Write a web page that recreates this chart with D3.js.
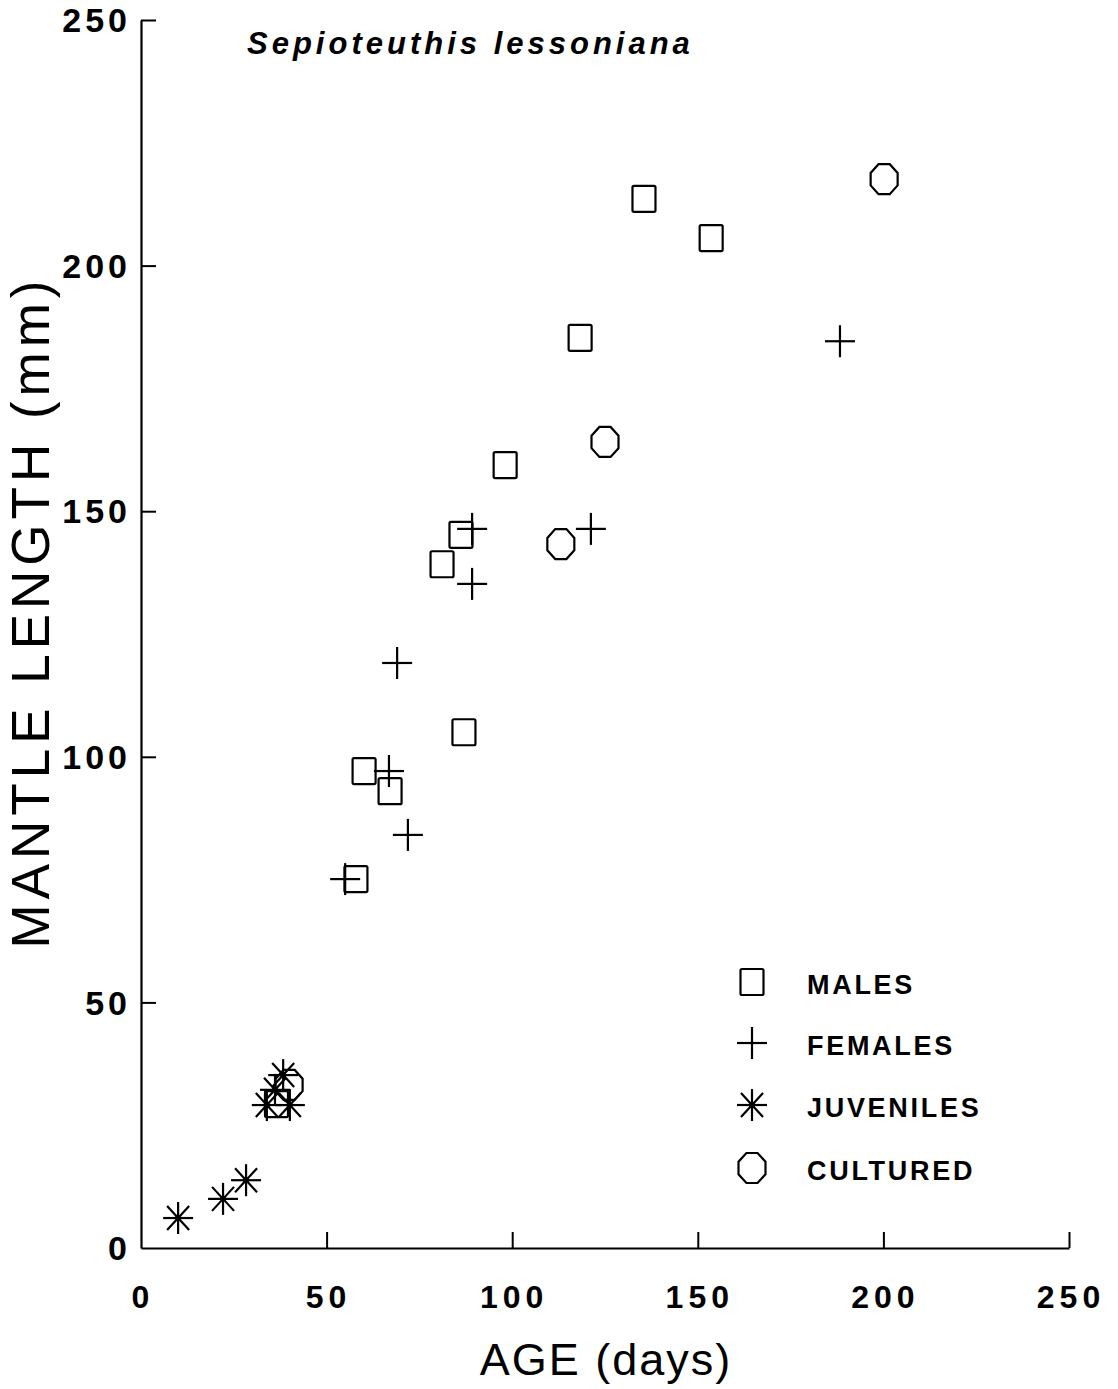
<!DOCTYPE html>
<html>
<head>
<meta charset="utf-8">
<script src="https://cdn.jsdelivr.net/npm/d3@7/dist/d3.min.js"></script>
<style>
  html, body { margin: 0; padding: 0; background: #fff; }
  svg { display: block; font-family: "Liberation Sans", Arial, sans-serif; }
</style>
</head>
<body>
<script>
// ---- data ----
const title = "Sepioteuthis lessoniana";
const xTitle = "AGE (days)";
const yTitle = "MANTLE LENGTH (mm)";
const xTicks = [0, 50, 100, 150, 200, 250];
const yTicks = [0, 50, 100, 150, 200, 250];

const seriesNames = ["MALES", "FEMALES", "JUVENILES", "CULTURED"];
const seriesSymbols = ["square", "plus", "asterisk", "octagon"];

const malesAge = [135.5, 153.6, 118.3, 98.1, 86.2, 81.1, 87.0, 60.1, 67.1, 57.9, 36.5];
const malesML  = [213.6, 205.6, 185.3, 159.4, 145.2, 139.2, 105.0, 97.1, 93.0, 75.1, 29.3];

const femalesAge = [188.3, 121.2, 89.2, 89.2, 69.0, 66.8, 71.9, 55.0];
const femalesML  = [184.6, 146.4, 146.4, 135.2, 119.1, 97.1, 84.1, 75.1];

const juvenilesAge = [10.0, 22.1, 28.3, 38.3, 36.1, 33.9, 40.1];
const juvenilesML  = [6.1, 10.0, 13.8, 35.2, 32.2, 29.1, 29.1];

const culturedAge = [200.2, 125.0, 113.1, 39.9];
const culturedML  = [217.6, 164.1, 143.3, 33.2];

const seriesAge = [malesAge, femalesAge, juvenilesAge, culturedAge];
const seriesML = [malesML, femalesML, juvenilesML, culturedML];

// ---- layout ----
const W = 1118, H = 1389;
const FONT = '"Liberation Sans", Arial, sans-serif';

const svg = d3.select("body").append("svg")
  .attr("width", W).attr("height", H);

const x = d3.scaleLinear().domain([0, 250]).range([141, 1069]);
const y = d3.scaleLinear().domain([0, 250]).range([1248, 20]);

// ---- symbol drawing ----
function drawSymbol(g, type, cx, cy) {
  const s = g.append("g").attr("transform", `translate(${cx},${cy})`)
    .attr("fill", "none").attr("stroke", "#000").attr("stroke-width", 2.2);
  if (type === "square") {
    s.append("rect").attr("x", -11.5).attr("y", -13).attr("width", 23).attr("height", 26)
      .attr("rx", 1.5);
  } else if (type === "plus") {
    s.append("line").attr("x1", -15).attr("x2", 15).attr("y1", 0).attr("y2", 0);
    s.append("line").attr("x1", 0).attr("x2", 0).attr("y1", -16).attr("y2", 16);
  } else if (type === "asterisk") {
    s.append("line").attr("x1", -15).attr("x2", 15).attr("y1", 0).attr("y2", 0);
    s.append("line").attr("x1", 0).attr("x2", 0).attr("y1", -16).attr("y2", 16);
    s.append("line").attr("x1", -11).attr("x2", 11).attr("y1", -12).attr("y2", 12);
    s.append("line").attr("x1", -11).attr("x2", 11).attr("y1", 12).attr("y2", -12);
    s.append("circle").attr("r", 3).attr("fill", "#000").attr("stroke", "none");
  } else if (type === "octagon") {
    const rx = 13.5, ry = 15;
    const pts = d3.range(8).map(i => {
      const a = Math.PI / 8 + i * Math.PI / 4;
      return [rx * Math.cos(a) / Math.cos(Math.PI / 8), ry * Math.sin(a) / Math.cos(Math.PI / 8)];
    });
    s.append("polygon").attr("points", pts.map(p => p.join(",")).join(" "));
  }
}

// ---- axes ----
const yAxis = d3.axisLeft(y).tickValues(yTicks.filter(v => v > 0)).tickSizeInner(-15).tickSizeOuter(0).tickPadding(0)
  .tickFormat(d3.format("d"));
const xAxis = d3.axisBottom(x).tickValues(xTicks.filter(v => v > 0)).tickSizeInner(-16).tickSizeOuter(0).tickPadding(0)
  .tickFormat(d3.format("d"));

const gy = svg.append("g").attr("transform", `translate(${x(0)},0)`).call(yAxis);
const gx = svg.append("g").attr("transform", `translate(0,${y(0)})`).call(xAxis);

[gx, gy].forEach(g => {
  g.select(".domain").attr("stroke", "#000").attr("stroke-width", 2.2);
  g.selectAll(".tick line").attr("stroke", "#000").attr("stroke-width", 2);
  g.selectAll(".tick text").remove();
});

// y tick labels
svg.append("g").selectAll("text").data(yTicks).join("text")
  .attr("x", 131).attr("y", d => y(d))
  .attr("dy", "0.36em")
  .attr("text-anchor", "end")
  .style("font-family", FONT).style("font-weight", "bold")
  .style("font-size", "34px").style("letter-spacing", "4px")
  .attr("fill", "#000")
  .text(d => d);

// x tick labels
svg.append("g").selectAll("text").data(xTicks).join("text")
  .attr("x", d => x(d) + 2).attr("y", 1308)
  .attr("text-anchor", "middle")
  .style("font-family", FONT).style("font-weight", "bold")
  .style("font-size", "32px").style("letter-spacing", "5px")
  .attr("fill", "#000")
  .text(d => d);

// axis titles
svg.append("text")
  .attr("x", 606).attr("y", 1375)
  .attr("text-anchor", "middle")
  .style("font-family", FONT).style("font-size", "45px").style("letter-spacing", "2px")
  .attr("fill", "#000")
  .text(xTitle);

svg.append("text")
  .attr("transform", "translate(49,612) rotate(-90)")
  .attr("text-anchor", "middle")
  .style("font-family", FONT).style("font-size", "53px").style("letter-spacing", "5px")
  .attr("fill", "#000")
  .text(yTitle);

// title
svg.append("text")
  .attr("x", 247).attr("y", 54)
  .style("font-family", FONT).style("font-weight", "bold").style("font-style", "italic")
  .style("font-size", "31px").style("letter-spacing", "4px")
  .attr("fill", "#000")
  .text(title);

// ---- data points ----
const plot = svg.append("g");
seriesNames.forEach((name, i) => {
  const pts = seriesAge[i].map((a, j) => ({ a, m: seriesML[i][j] }));
  const g = plot.append("g").attr("class", "series-" + name.toLowerCase());
  pts.forEach(p => drawSymbol(g, seriesSymbols[i], x(p.a), y(p.m)));
});

// ---- legend ----
const legendY = [982, 1043, 1105, 1168];
const legend = svg.append("g");
seriesNames.forEach((name, i) => {
  drawSymbol(legend, seriesSymbols[i], 752, legendY[i]);
  legend.append("text")
    .attr("x", 807).attr("y", legendY[i] + 12)
    .style("font-family", FONT).style("font-weight", "bold")
    .style("font-size", "27px").style("letter-spacing", "2.7px")
    .attr("fill", "#000")
    .text(name);
});
</script>
</body>
</html>
